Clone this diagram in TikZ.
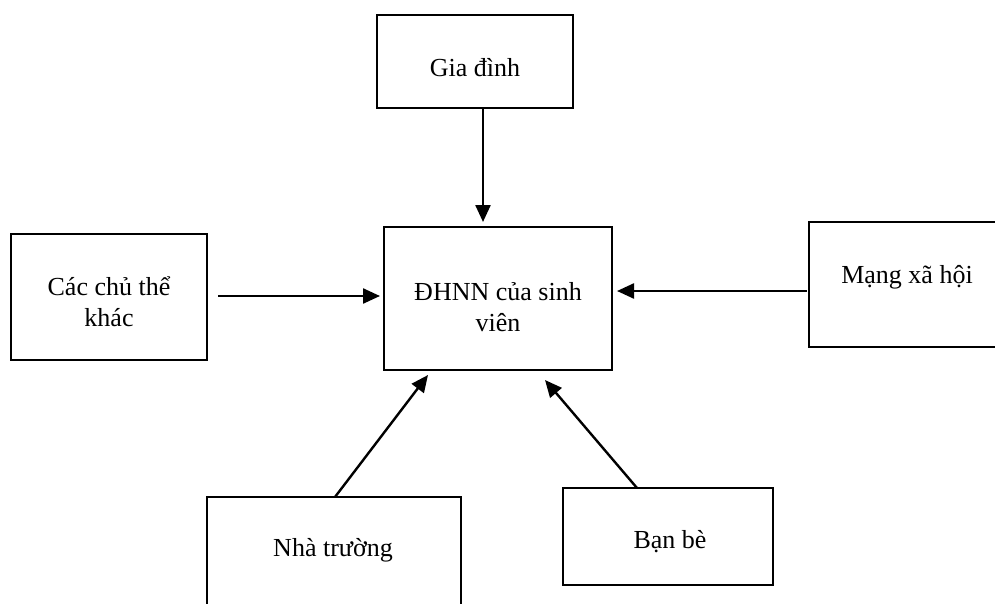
\documentclass[tikz,border=0pt]{standalone}
\usepackage{fontspec}
\setmainfont{Liberation Serif}
\usetikzlibrary{arrows.meta,calc}
\begin{document}
\begin{tikzpicture}[x=1pt,y=-1pt,
  box/.style={draw=black,line width=2.4pt,fill=none,inner sep=0pt,outer sep=0pt},
  txt/.style={inner sep=0pt,align=center,font=\fontsize{26}{31}\selectfont},
  arr/.style={line width=2.4pt,-{Triangle[length=17pt,width=15pt]}}]
\useasboundingbox (0,0) rectangle (995,604);
\clip (0,0) rectangle (995,604);
% boxes
\node[box,minimum width=196pt,minimum height=93pt] (gia) at (475,61.5) {};
\node[box,minimum width=228pt,minimum height=143pt] (dh) at (498,298.5) {};
\node[box,minimum width=196pt,minimum height=126pt] (cac) at (109,297) {};
\node[box,minimum width=196pt,minimum height=125pt] (mxh) at (907,284.5) {};
\node[box,minimum width=254pt,minimum height=112pt] (nha) at (334,553) {};
\node[box,minimum width=210pt,minimum height=97pt] (ban) at (668,536.5) {};
% texts
\node[txt] (giat) at (475,68) {Gia đình};
\node[txt] (dht) at (498,307) {ĐHNN của sinh\\viên};
\node[txt] (cact) at (109,302) {Các chủ thể\\khác};
\node[txt] (mxht) at (907,277) {Mạng xã hội};
\node[txt] (nhat) at (333,550) {Nhà trường};
\node[txt] (bant) at (670,542) {Bạn bè};
% connectors
\draw[arr] ([xshift=8pt]gia.south) -- ([xshift=-15pt,yshift=5pt]dh.north);
\coordinate (c1) at ([xshift=11pt,yshift=1pt]cac.east);
\coordinate (c2) at (dh.west |- c1);
\draw[arr] (c1) -- ([xshift=-4pt]c2);
\coordinate (m1) at ([xshift=-2pt,yshift=-6.5pt]mxh.west);
\coordinate (m2) at (dh.east |- m1);
\draw[arr] (m1) -- ([xshift=5pt]m2);
\draw[arr] ([xshift=1pt]nha.north) -- ([xshift=-70pt,yshift=-5pt]dh.south);
\draw[arr] ([xshift=-31pt]ban.north) -- ([xshift=47pt,yshift=-10pt]dh.south);
\end{tikzpicture}
\end{document}
